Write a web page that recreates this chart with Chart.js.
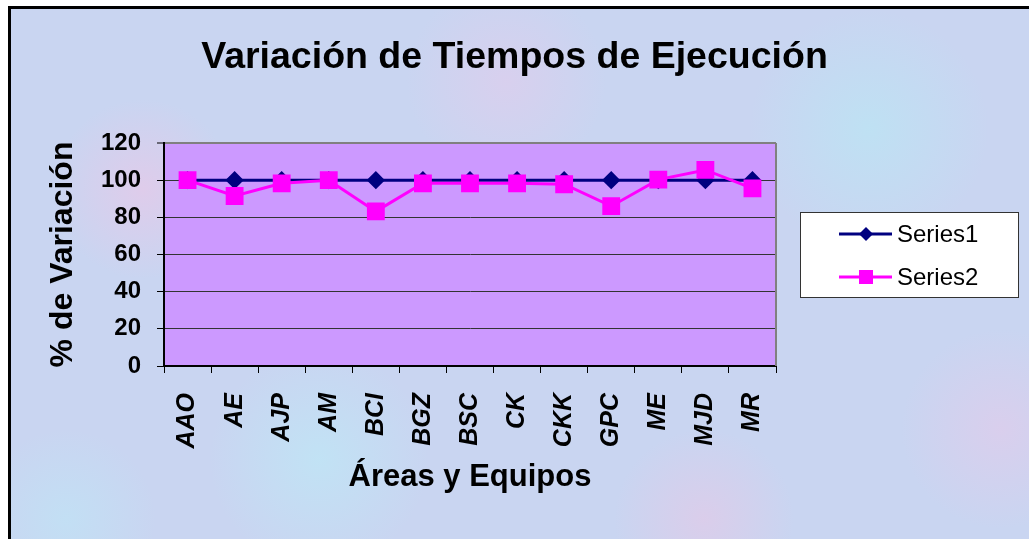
<!DOCTYPE html>
<html>
<head>
<meta charset="utf-8">
<script src="https://cdn.jsdelivr.net/npm/chart.js@4.4.0/dist/chart.umd.min.js"></script>
<style>
    html, body { margin: 0; padding: 0; background: #ffffff; }
    #fondo {
        position: absolute; left: 8px; top: 6px; width: 1100px; height: 600px;
        border-left: 3px solid #000; border-top: 3px solid #000;
        background-color: #c9d5f1;
        background-image:
            radial-gradient(circle at 12% 30%, rgba(232, 200, 232, 0.7) 0, rgba(232, 200, 232, 0) 90px),
            radial-gradient(circle at 28% 75%, rgba(190, 232, 246, 0.7) 0, rgba(190, 232, 246, 0) 110px),
            radial-gradient(circle at 45% 12%, rgba(226, 204, 236, 0.6) 0, rgba(226, 204, 236, 0) 100px),
            radial-gradient(circle at 63% 85%, rgba(230, 200, 230, 0.6) 0, rgba(230, 200, 230, 0) 90px),
            radial-gradient(circle at 78% 20%, rgba(186, 230, 244, 0.7) 0, rgba(186, 230, 244, 0) 120px),
            radial-gradient(circle at 90% 70%, rgba(228, 202, 234, 0.6) 0, rgba(228, 202, 234, 0) 100px),
            radial-gradient(circle at 5% 85%, rgba(190, 230, 246, 0.6) 0, rgba(190, 230, 246, 0) 90px);
    }
    #grafico { position: absolute; left: 0; top: 0; }
</style>
</head>
<body>
<div id="fondo"></div>
<canvas id="grafico" width="1029" height="539"></canvas>
<script>
let categorias = ['AAO', 'AE', 'AJP', 'AM', 'BCI', 'BGZ', 'BSC', 'CK', 'CKK', 'GPC', 'ME', 'MJD', 'MR'];
let series1 = [100, 100, 100, 100, 100, 100, 100, 100, 100, 100, 100, 100, 100];
let series2 = [100, 91.5, 98.3, 100, 83.2, 98.3, 98.3, 98.3, 97.8, 86, 100.3, 105.5, 95.6];
let ticksY = [0, 20, 40, 60, 80, 100, 120];

// fondo lila del area de trazado
const fondoPlot = {
    id: 'fondoPlot',
    beforeDraw(chart) {
        let a = chart.chartArea;
        let ctx = chart.ctx;
        ctx.save();
        ctx.fillStyle = '#cc99ff';
        ctx.fillRect(a.left, a.top, a.right - a.left, a.bottom - a.top);
        ctx.restore();
    },
    afterDraw(chart) {
        let a = chart.chartArea;
        let ctx = chart.ctx;
        ctx.save();
        ctx.strokeStyle = '#808080';
        ctx.lineWidth = 2;
        ctx.beginPath();
        ctx.moveTo(a.right, a.top);
        ctx.lineTo(a.right, a.bottom);
        ctx.stroke();
        ctx.restore();
    }
};

// leyenda con caja blanca, linea + marcador
const leyenda = {
    id: 'leyenda',
    afterDraw(chart) {
        let ctx = chart.ctx;
        ctx.save();
        ctx.fillStyle = '#ffffff';
        ctx.fillRect(800, 212, 218, 85);
        ctx.strokeStyle = '#333333';
        ctx.lineWidth = 1;
        ctx.strokeRect(800.5, 212.5, 218, 85);
        chart.data.datasets.forEach(function(ds, i) {
            let y = 234 + i * 43;
            ctx.strokeStyle = ds.borderColor;
            ctx.lineWidth = 3;
            ctx.beginPath();
            ctx.moveTo(839, y);
            ctx.lineTo(892, y);
            ctx.stroke();
            ctx.fillStyle = ds.pointBackgroundColor;
            ctx.beginPath();
            if (ds.pointStyle === 'rectRot') {
                ctx.moveTo(866, y - 7);
                ctx.lineTo(873, y);
                ctx.lineTo(866, y + 7);
                ctx.lineTo(859, y);
                ctx.closePath();
            } else {
                ctx.rect(859, y - 7, 14, 14);
            }
            ctx.fill();
            ctx.fillStyle = '#000';
            ctx.font = '24px Arial, "Liberation Sans"';
            ctx.textBaseline = 'middle';
            ctx.textAlign = 'left';
            ctx.fillText(ds.label, 897, y + 1);
        });
        ctx.restore();
    }
};

let ctx = document.getElementById('grafico').getContext('2d');
let grafico = new Chart(ctx, {
    type: 'line',
    data: {
        labels: categorias,
        datasets: [{
            label: 'Series1',
            data: series1,
            borderColor: '#000080',
            backgroundColor: '#000080',
            pointBackgroundColor: '#000080',
            pointBorderColor: '#000080',
            pointStyle: 'rectRot',
            pointRadius: 7,
            borderWidth: 3,
            tension: 0,
            order: 1
        }, {
            label: 'Series2',
            data: series2,
            borderColor: '#ff00ff',
            backgroundColor: '#ff00ff',
            pointBackgroundColor: '#ff00ff',
            pointBorderColor: '#ff00ff',
            pointStyle: 'rect',
            pointRadius: 10.5,
            borderWidth: 3,
            tension: 0,
            order: 0
        }]
    },
    options: {
        responsive: false,
        animation: false,
        layout: { padding: 0 },
        plugins: {
            legend: { display: false },
            tooltip: { enabled: false },
            title: {
                display: true,
                text: 'Variación de Tiempos de Ejecución',
                color: '#000',
                font: { family: 'Arial, "Liberation Sans"', size: 37.5, weight: 'bold', lineHeight: 1.2 },
                padding: { top: 35, bottom: 63 }
            }
        },
        scales: {
            x: {
                offset: true,
                grid: {
                    offset: true,
                    drawOnChartArea: false,
                    drawTicks: true,
                    tickLength: 7,
                    tickColor: '#000',
                    tickWidth: 1
                },
                border: { color: '#000', width: 2 },
                ticks: {
                    color: '#000',
                    minRotation: 90,
                    maxRotation: 90,
                    padding: 20,
                    autoSkip: false,
                    font: { family: 'Arial, "Liberation Sans"', size: 25, weight: 'bold', style: 'italic' }
                },
                title: {
                    display: true,
                    text: 'Áreas y Equipos',
                    color: '#000',
                    font: { family: 'Arial, "Liberation Sans"', size: 31, weight: 'bold', lineHeight: 1.2 },
                    padding: { top: 0, bottom: 43 }
                },
                afterFit: function(scale) { scale.height = 173; }
            },
            y: {
                min: 0,
                max: 120,
                afterBuildTicks: function(scale) {
                    scale.ticks = ticksY.map(function(v) { return { value: v }; });
                },
                grid: {
                    color: function(c) { return c.tick && c.tick.value === 120 ? '#808080' : '#333333'; },
                    lineWidth: function(c) { return c.tick && c.tick.value === 120 ? 2 : 1; },
                    tickLength: 7,
                    tickColor: '#000',
                    tickWidth: 1
                },
                border: { color: '#000', width: 2 },
                ticks: {
                    color: '#000',
                    padding: 16,
                    font: { family: 'Arial, "Liberation Sans"', size: 24, weight: 'bold' }
                },
                title: {
                    display: true,
                    text: '% de Variación',
                    color: '#000',
                    font: { family: 'Arial, "Liberation Sans"', size: 32, weight: 'bold', lineHeight: 1.2 },
                    padding: { top: 44, bottom: 0 }
                },
                afterFit: function(scale) { scale.width = 164; }
            },
            derecha: {
                type: 'linear',
                position: 'right',
                display: true,
                grid: { display: false, drawTicks: false },
                border: { display: false },
                ticks: { display: false },
                afterFit: function(scale) { scale.width = 253; }
            }
        }
    },
    plugins: [fondoPlot, leyenda]
});
</script>
</body>
</html>
